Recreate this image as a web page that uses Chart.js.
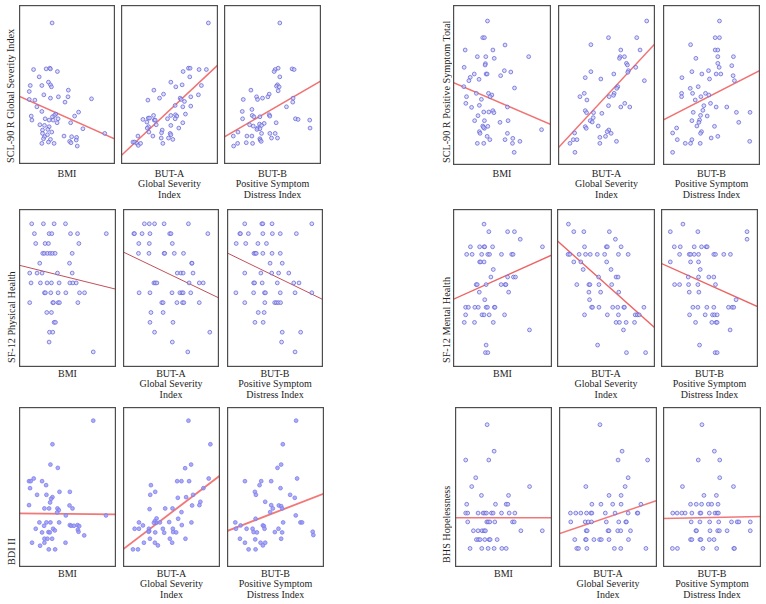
<!DOCTYPE html>
<html>
<head>
<meta charset="utf-8">
<script src="https://cdn.jsdelivr.net/npm/chart.js@4.4.1/dist/chart.umd.min.js"></script>
<style>
  body { margin: 0; background: #fff; width: 766px; height: 604px; position: relative; overflow: hidden;
         font-family: 'Liberation Serif', 'Times New Roman', serif; color: #1e1e1e; }
  canvas { position: absolute; }
  .xl { position: absolute; font-size: 10px; line-height: 10.5px; text-align: center; white-space: nowrap; }
  .yl { position: absolute; font-size: 10.2px; line-height: 12px; width: 12px; writing-mode: vertical-rl;
        transform: rotate(180deg); white-space: nowrap; text-align: left; }
</style>
</head>
<body>
<script>
// predictors (x) and outcomes (y)
const xLabels = [['BMI'], ['BUT-A', 'Global Severity', 'Index'], ['BUT-B', 'Positive Symptom', 'Distress Index']];
const yTitles = ['SCL-90 R Global Severity Index', 'SCL-90 R Positive Symptom Total', 'SF-12 Physical Health',
                 'SF-12 Mental Health', 'BDI II', 'BHS Hopelessness'];
const xRanges = [[15, 44], [0, 2.92], [1, 3.92]];
const yRanges = [[0, 2.39], [0, 96], [-0.53, 15.5], [-0.9, 20], [0, 48.1], [-2.1, 16]];

// SCL-90 R GSI
const gsiBmi = [[25.0,2.12],[19.4,1.42],[23.2,1.43],[24.3,1.44],[24.5,1.43],[26.6,1.39],[21.1,1.31],[23.9,1.23],[24.5,1.19],[24.8,1.16],[21.9,1.18],[18.4,1.18],[18.1,1.09],[22.5,1.04],[29.9,1.11],[29.8,1.01],[24.5,0.99],[26.9,1.01],[36.9,0.98],[18.1,0.97],[19.8,0.96],[28.9,0.93],[20.4,0.86],[21.9,0.79],[33.0,0.78],[26.1,0.75],[25.7,0.73],[25.1,0.71],[31.8,0.72],[18.7,0.72],[18.9,0.66],[22.9,0.68],[24.1,0.66],[25.3,0.66],[26.8,0.68],[26.5,0.62],[21.3,0.59],[22.7,0.58],[30.6,0.62],[24.1,0.56],[23.7,0.52],[22.1,0.51],[34.3,0.53],[24.9,0.48],[22.1,0.46],[23.6,0.44],[22.7,0.41],[28.6,0.42],[30.9,0.41],[32.4,0.40],[22.4,0.38],[24.5,0.37],[32.3,0.36],[30.3,0.34],[30.7,0.32],[21.9,0.31],[23.9,0.33],[25.6,0.31],[32.6,0.27],[40.9,0.46]];
const gsiButA = [[2.63,2.12],[1.87,1.39],[2.03,1.44],[2.08,1.44],[2.35,1.42],[2.57,1.42],[1.50,1.23],[1.65,1.16],[1.84,1.19],[2.07,1.31],[2.42,1.18],[0.99,1.11],[1.28,1.05],[1.16,0.99],[0.81,0.96],[1.78,0.99],[2.10,1.01],[2.33,1.04],[1.91,0.94],[1.81,0.97],[1.63,0.88],[1.86,0.86],[2.10,0.87],[0.98,0.73],[0.66,0.67],[0.82,0.69],[0.86,0.69],[1.00,0.66],[1.03,0.66],[0.78,0.63],[1.06,0.59],[0.83,0.56],[0.79,0.54],[1.50,0.73],[1.64,0.74],[1.68,0.72],[1.94,0.75],[1.63,0.68],[1.40,0.68],[1.50,0.58],[1.74,0.54],[1.86,0.62],[1.24,0.51],[1.22,0.47],[1.48,0.46],[1.50,0.44],[0.96,0.42],[1.21,0.39],[0.84,0.48],[0.51,0.42],[0.36,0.33],[0.41,0.33],[0.48,0.31],[0.52,0.28],[0.59,0.31],[1.26,0.31],[1.43,0.39],[1.56,0.37]];
const gsiButB = [[2.68,2.12],[2.54,1.42],[2.51,1.39],[2.63,1.44],[3.05,1.43],[3.11,1.42],[2.68,1.31],[2.61,1.19],[2.58,1.17],[2.66,1.16],[1.81,1.11],[2.63,1.10],[2.36,1.05],[1.98,1.01],[2.01,0.97],[2.16,0.99],[2.32,1.01],[1.58,0.97],[3.08,0.99],[3.07,0.93],[2.88,0.86],[1.55,0.79],[1.84,0.82],[1.85,0.73],[1.90,0.71],[2.36,0.74],[2.38,0.72],[2.08,0.71],[1.56,0.68],[3.15,0.68],[3.23,0.67],[3.58,0.66],[2.57,0.62],[2.07,0.60],[1.88,0.57],[2.21,0.61],[2.13,0.58],[2.01,0.54],[2.08,0.53],[1.77,0.59],[1.99,0.52],[3.59,0.54],[1.42,0.48],[1.69,0.42],[1.84,0.42],[2.13,0.46],[2.38,0.46],[2.54,0.46],[2.08,0.38],[2.09,0.36],[2.43,0.39],[2.61,0.39],[1.28,0.42],[1.41,0.31],[1.29,0.27],[1.67,0.32],[1.86,0.31],[2.12,0.34]];
const gsiFit = [[1.02, 0.375], [0.125, 1.49], [0.405, 1.25]];

// SCL-90 R PST
const pstBmi = [[25.2,86.4],[23.8,76.4],[24.3,76.4],[18.6,69.0],[26.8,69.0],[30.4,72.0],[22.2,65.0],[24.7,65.0],[27.2,64.0],[37.4,65.0],[24.6,60.8],[24.5,60.0],[18.3,58.6],[30.2,56.6],[32.1,55.8],[21.3,54.6],[24.8,54.6],[25.1,54.6],[29.1,53.6],[20.1,52.6],[22.7,51.4],[19.7,50.6],[18.2,47.0],[33.2,46.2],[21.9,43.0],[25.5,43.0],[26.5,42.0],[26.0,41.0],[23.4,39.4],[19.0,41.0],[18.8,37.0],[20.5,34.6],[22.8,35.8],[31.1,34.8],[24.1,31.8],[25.6,31.8],[26.8,32.6],[27.1,31.4],[22.4,29.6],[21.4,26.6],[24.3,26.6],[31.3,26.6],[28.9,25.6],[23.8,23.4],[25.3,23.2],[24.3,22.0],[24.0,22.6],[22.8,20.0],[23.0,19.0],[25.1,17.2],[31.1,19.0],[25.9,15.2],[30.4,15.2],[32.7,16.0],[34.8,14.2],[22.2,13.0],[24.1,13.0],[32.6,13.0],[33.1,7.6],[41.2,21.2]];
const pstButA = [[2.67,86.4],[1.52,76.4],[2.37,76.4],[0.99,72.2],[1.89,69.0],[2.47,69.0],[1.87,65.0],[1.85,64.0],[2.00,65.0],[2.06,61.0],[2.09,60.0],[2.34,58.6],[0.99,56.0],[0.82,52.4],[1.68,54.6],[2.12,56.6],[2.10,55.6],[1.29,51.6],[1.80,47.0],[1.77,46.0],[0.66,41.0],[0.87,39.0],[0.79,43.0],[1.69,43.0],[1.67,41.8],[1.54,41.0],[2.60,50.6],[2.01,37.0],[2.16,34.8],[1.52,35.6],[1.89,34.8],[0.82,32.6],[0.86,31.4],[1.07,31.4],[1.32,31.0],[0.97,26.6],[1.03,25.8],[1.06,28.4],[1.21,23.4],[0.82,23.0],[0.85,22.0],[1.53,21.0],[1.48,20.0],[1.60,19.0],[1.26,16.6],[1.43,17.2],[1.76,14.2],[0.50,19.2],[0.46,15.2],[0.57,15.2],[0.36,13.0],[1.26,13.0],[0.51,7.6]];
const pstButB = [[2.70,86.4],[2.57,76.4],[2.70,76.4],[1.83,72.2],[2.57,69.0],[2.65,69.0],[1.99,64.0],[2.65,65.0],[3.12,65.0],[2.65,61.0],[2.69,58.6],[3.07,59.6],[1.87,56.0],[2.37,56.6],[2.17,54.6],[2.60,54.6],[2.74,54.6],[1.57,52.4],[2.40,51.6],[3.11,53.6],[3.15,50.6],[2.06,47.0],[1.82,46.0],[1.89,43.0],[1.56,43.0],[1.56,41.0],[2.28,43.0],[2.38,42.0],[2.14,41.0],[1.97,39.0],[2.43,37.0],[2.23,35.6],[2.92,34.8],[2.60,34.8],[1.91,31.6],[2.20,32.8],[2.13,29.8],[2.33,29.4],[2.10,27.0],[1.87,26.6],[2.08,25.6],[3.21,31.6],[3.62,31.6],[3.28,25.6],[2.02,23.4],[2.55,23.2],[1.41,22.2],[1.29,19.2],[2.16,20.0],[2.13,19.0],[2.45,16.2],[2.65,17.2],[1.43,15.2],[1.87,15.2],[1.67,13.0],[1.83,13.0],[2.12,13.0],[3.61,14.2],[1.29,7.6]];
const pstFit = [[49.6, 24.2], [10.2, 72.8], [27.0, 56.8]];

// SF-12 physical
const physBmi = [[18.8,14],[22.3,14],[25.5,14],[28.9,14],[19.6,13],[24.0,13],[24.8,13],[30.4,13],[32.5,13],[41.1,13],[20.0,12],[22.8,12],[23.8,12],[32.9,12],[22.1,11],[22.6,11],[23.5,11],[24.3,11],[25.0,11],[25.8,11],[30.9,11],[21.2,10],[30.1,10],[18.2,9],[20.4,9],[21.9,9],[26.5,9],[30.9,9],[18.6,8],[21.4,8],[23.4,8],[24.7,8],[27.0,8],[30.2,8],[31.1,8],[32.1,8],[22.6,7],[22.9,7],[24.5,7],[26.7,7],[29.0,7],[33.1,7],[34.6,7],[18.2,6],[25.1,6],[25.3,6],[26.7,6],[27.1,6],[32.6,6],[23.3,5],[24.7,5],[25.5,4],[25.9,4],[24.1,3],[25.1,3],[24.0,2],[37.2,1]];
const physButA = [[0.65,14],[0.80,14],[0.96,14],[1.25,14],[1.99,14],[0.33,13],[0.35,13],[0.58,13],[0.82,13],[1.42,13],[1.46,13],[2.58,13],[0.48,12],[0.80,12],[1.50,12],[0.47,11],[0.79,11],[1.25,11],[1.27,11],[1.56,11],[1.84,11],[2.09,10],[2.10,10],[1.65,9],[1.76,9],[1.83,9],[2.13,9],[0.94,8],[0.98,8],[1.03,8],[2.01,8],[2.32,8],[2.44,8],[0.49,7],[0.82,7],[1.49,7],[1.73,7],[1.79,7],[1.83,7],[2.06,7],[1.18,6],[1.22,6],[1.64,6],[1.81,6],[1.85,6],[2.32,6],[0.85,5],[1.22,5],[0.82,4],[1.52,4],[0.96,3],[2.64,3],[1.50,2],[1.97,1]];
const physButB = [[1.54,14],[2.06,14],[2.09,14],[2.37,14],[3.58,14],[1.39,13],[1.41,13],[1.65,13],[2.09,13],[2.38,13],[2.62,13],[3.11,13],[1.28,12],[1.57,12],[1.94,12],[2.20,12],[1.82,11],[1.86,11],[1.89,11],[2.09,11],[2.37,11],[2.62,11],[2.31,10],[2.68,10],[1.54,9],[2.03,9],[2.36,9],[2.57,9],[2.88,9],[1.81,8],[1.84,8],[2.07,8],[2.53,8],[3.03,8],[3.19,8],[1.27,7],[1.81,7],[2.14,7],[2.17,7],[2.62,7],[3.07,7],[3.58,7],[1.54,6],[2.15,6],[2.45,6],[2.50,6],[2.56,6],[2.63,6],[1.95,5],[2.13,5],[1.85,4],[2.10,4],[2.68,3],[3.24,3],[2.66,2],[3.07,1]];
const physFit = [[9.8, 7.36], [11.15, 6.47], [11.05, 6.31]];

// SF-12 mental
const mentBmi = [[24.1,18],[25.5,17],[31.0,17],[33.0,17],[34.7,16],[20.1,15],[22.8,15],[24.1,15],[24.3,15],[26.6,15],[41.2,15],[19.0,14],[20.6,14],[23.4,14],[25.2,14],[25.7,14],[29.2,14],[32.2,14],[32.6,14],[22.8,13],[23.1,13],[24.1,13],[26.8,12],[26.1,11],[31.0,11],[32.7,11],[33.3,11],[21.8,10],[22.1,10],[24.7,10],[29.1,10],[30.3,10],[30.5,10],[22.7,9],[31.3,9],[24.3,8],[18.7,7],[19.5,7],[21.4,7],[22.4,7],[24.7,7],[25.1,7],[27.1,7],[27.3,7],[18.7,6],[23.5,6],[24.1,6],[25.6,6],[30.1,6],[18.3,5],[21.3,5],[26.8,5],[37.4,4],[24.7,2],[24.5,1],[25.2,1]];
const mentButA = [[0.34,18],[0.50,17],[0.80,17],[1.56,17],[1.74,16],[0.82,15],[1.47,15],[1.50,15],[1.91,15],[0.33,14],[0.38,14],[0.66,14],[0.85,14],[0.99,14],[1.20,14],[1.42,14],[1.83,14],[2.12,14],[0.50,13],[0.71,13],[1.48,13],[0.78,12],[1.61,12],[1.24,11],[1.76,11],[1.82,11],[0.59,10],[0.95,10],[0.98,10],[1.25,10],[1.63,10],[0.95,9],[1.30,9],[1.84,9],[0.97,8],[1.03,7],[1.06,7],[1.25,7],[1.66,7],[1.81,7],[1.99,7],[2.01,7],[2.59,7],[0.82,6],[1.50,6],[1.83,6],[2.33,6],[2.39,6],[2.45,6],[1.76,5],[1.86,5],[2.06,5],[2.31,5],[1.98,4],[1.21,2],[2.07,1],[2.64,1]];
const mentButB = [[1.66,18],[1.28,17],[2.11,17],[3.59,17],[3.59,16],[1.40,15],[1.58,15],[2.00,15],[2.22,15],[2.36,15],[2.39,15],[1.56,14],[1.85,14],[1.89,14],[2.00,14],[2.13,14],[2.59,14],[2.64,14],[2.89,14],[3.09,14],[1.28,13],[1.89,13],[2.13,13],[2.18,12],[1.82,11],[2.13,11],[2.44,11],[2.59,11],[1.41,10],[1.56,10],[1.83,10],[2.11,10],[2.64,10],[1.85,9],[2.14,9],[3.26,8],[1.96,7],[2.11,7],[2.38,7],[2.59,7],[3.03,7],[3.14,7],[3.19,7],[1.86,6],[2.33,6],[2.55,6],[2.61,6],[2.69,6],[2.04,5],[2.53,5],[2.66,5],[2.69,5],[3.08,4],[2.16,2],[2.63,1],[2.69,1]];
const mentFit = [[8.04, 13.92], [15.82, 4.27], [12.81, 7.06]];

// BDI II
const bdiBmi = [[37.2,44.0],[25.0,36.9],[24.4,30.8],[26.6,29.8],[18.0,25.8],[18.5,25.8],[19.4,26.6],[21.9,25.8],[23.1,24.6],[18.3,23.7],[20.4,21.7],[23.2,21.7],[25.0,21.0],[24.6,20.5],[27.1,22.6],[30.2,22.6],[24.3,19.4],[18.0,18.6],[22.6,17.6],[24.0,17.6],[26.5,17.6],[26.9,17.1],[30.1,18.5],[31.0,17.6],[26.4,16.4],[29.0,15.5],[41.0,15.5],[21.1,13.4],[23.2,13.4],[24.4,13.4],[27.0,13.4],[22.5,12.4],[20.0,11.5],[21.9,10.4],[23.8,10.5],[24.2,10.4],[25.2,11.5],[25.7,11.0],[30.2,12.6],[30.6,12.4],[31.4,12.4],[32.5,12.6],[33.0,12.3],[32.6,11.2],[32.8,10.6],[34.5,9.5],[22.6,8.5],[23.5,8.5],[24.9,8.5],[18.9,7.3],[22.6,7.3],[28.9,7.3],[21.3,6.4],[23.9,5.3],[25.8,5.3]];
const bdiButA = [[1.97,44.0],[2.63,36.9],[2.05,30.8],[1.87,29.7],[2.58,26.6],[1.63,25.8],[1.76,25.8],[1.99,25.8],[0.84,24.6],[2.42,23.7],[0.97,22.6],[0.82,21.7],[2.11,21.7],[1.65,20.8],[1.90,21.0],[2.33,19.6],[2.30,18.6],[2.08,18.5],[1.49,17.6],[0.80,17.4],[1.27,17.6],[1.76,16.5],[1.01,14.6],[0.96,13.8],[1.00,13.3],[2.06,13.4],[1.11,13.4],[1.39,13.5],[1.66,14.5],[0.48,13.4],[0.60,12.5],[0.48,11.5],[0.35,11.5],[0.78,11.5],[0.79,10.8],[1.20,11.5],[1.50,11.5],[1.77,12.6],[1.24,10.3],[1.51,10.5],[1.60,10.4],[0.81,8.5],[0.96,7.3],[0.63,7.3],[1.05,6.5],[1.41,8.5],[1.48,7.3],[1.88,8.5],[0.30,5.3],[0.45,5.3],[0.97,10.4],[0.77,10.6],[0.93,13.3]];
const bdiButB = [[3.08,44.0],[2.68,36.9],[2.63,30.8],[2.52,29.8],[1.54,25.8],[2.03,25.8],[1.98,24.6],[2.33,25.8],[1.84,22.6],[1.87,21.7],[2.61,23.7],[3.11,26.6],[2.90,21.7],[3.04,20.8],[2.15,19.6],[2.33,18.6],[2.56,18.5],[2.63,18.3],[2.66,17.6],[2.38,17.6],[2.30,16.5],[3.07,15.5],[1.86,14.5],[1.25,13.4],[1.41,12.5],[1.59,11.5],[1.27,11.5],[1.77,11.5],[1.80,10.5],[1.90,10.4],[2.08,12.5],[2.11,12.3],[2.13,11.5],[2.69,13.4],[3.21,13.4],[3.26,13.4],[2.44,10.5],[2.66,10.4],[2.55,11.5],[3.58,10.6],[3.60,9.6],[1.39,8.5],[1.54,7.3],[1.85,8.3],[2.01,7.3],[2.08,6.5],[2.15,7.3],[2.63,8.5],[1.65,5.3],[1.86,5.3]];
const bdiFit = [[16.1, 15.8], [5.3, 27.5], [10.8, 22.1]];

// BHS
const bhsBmi = [[24.6,14],[26.7,11],[18.2,10],[25.1,10],[21.2,8],[20.0,7],[37.3,7],[22.9,6],[31.0,6],[18.5,5],[27.1,5],[30.3,5],[30.8,5],[18.2,4],[18.8,4],[21.9,4],[23.4,4],[23.9,4],[24.4,4],[25.9,4],[26.4,4],[28.9,4],[31.2,4],[32.9,4],[18.8,3],[24.5,3],[24.9,3],[25.4,3],[26.9,3],[32.2,3],[32.7,3],[20.5,2],[21.9,2],[23.1,2],[23.7,2],[24.1,2],[34.7,2],[41.1,2],[21.4,1],[22.0,1],[22.5,1],[23.9,1],[25.2,1],[25.5,1],[27.6,1],[19.5,0],[23.0,0],[24.9,0],[26.7,0],[29.0,0],[30.3,0]];
const bhsButA = [[1.22,14],[1.88,11],[1.76,10],[2.64,10],[2.06,8],[0.80,7],[1.97,7],[1.49,6],[1.85,6],[0.98,5],[1.25,5],[1.60,5],[1.85,5],[2.44,5],[0.34,4],[0.50,4],[0.65,4],[0.82,4],[0.95,4],[0.98,4],[1.38,4],[1.67,4],[2.06,4],[2.33,4],[2.35,4],[0.35,3],[0.78,3],[0.87,3],[0.97,3],[1.41,3],[1.78,3],[1.99,3],[2.01,3],[0.81,2],[0.84,2],[1.46,2],[1.49,2],[1.75,2],[1.84,2],[2.13,2],[0.47,1],[0.79,1],[0.81,1],[1.04,1],[1.21,1],[1.26,1],[1.49,1],[2.07,1],[0.53,0],[0.58,0],[0.83,0],[1.65,0],[1.84,0],[2.59,0]];
const bhsButB = [[2.16,14],[2.53,11],[2.05,10],[2.69,10],[2.69,8],[1.58,7],[3.10,7],[2.22,6],[2.59,6],[1.82,5],[1.99,5],[2.15,5],[2.35,5],[2.45,5],[2.64,5],[1.29,4],[1.42,4],[1.56,4],[1.66,4],[1.86,4],[2.10,4],[2.13,4],[2.38,4],[2.55,4],[2.61,4],[2.65,4],[1.84,3],[2.10,3],[2.39,3],[2.66,3],[3.04,3],[3.21,3],[3.26,3],[3.60,3],[1.98,2],[2.00,2],[2.40,2],[2.63,2],[2.68,2],[2.91,2],[3.60,2],[1.82,1],[1.86,1],[2.10,1],[2.13,1],[2.38,1],[2.52,1],[1.28,0],[1.43,0],[2.19,0],[2.60,0],[3.11,0],[3.13,0]];
const bhsFit = [[3.47, 3.47], [1.66, 5.43], [3.40, 3.62]];

// layout per group: panel lefts/widths, top, height, y-title centre x and bottom, label top
const groups = [
  { pts: [gsiBmi, gsiButA, gsiButB], fit: gsiFit, lefts: [19, 121, 224], widths: [96, 97, 97], top: 5, h: 159, tx: 11, tb: 163, lt: 168.5, line: '#f07272', lw: 1.5, filled: false },
  { pts: [pstBmi, pstButA, pstButB], fit: pstFit, lefts: [453, 558, 663], widths: [98, 97, 97], top: 5, h: 160, tx: 447, tb: 163, lt: 168.5, line: '#f07272', lw: 1.5, filled: false },
  { pts: [physBmi, physButA, physButB], fit: physFit, lefts: [19, 123, 227], widths: [97, 96, 96], top: 209, h: 158, tx: 11.5, tb: 363, lt: 368.5, line: '#c0505a', lw: 1, filled: false },
  { pts: [mentBmi, mentButA, mentButB], fit: mentFit, lefts: [453, 557, 661], widths: [99, 98, 97], top: 209, h: 158, tx: 446.5, tb: 363, lt: 368.5, line: '#ec6464', lw: 1.3, filled: false },
  { pts: [bdiBmi, bdiButA, bdiButB], fit: bdiFit, lefts: [19, 123, 227], widths: [97, 97, 97], top: 407, h: 160, tx: 11.5, tb: 565, lt: 568.5, line: '#f27878', lw: 1.8, filled: true },
  { pts: [bhsBmi, bhsButA, bhsButB], fit: bhsFit, lefts: [455, 559, 663], widths: [97, 98, 98], top: 407, h: 160, tx: 446.5, tb: 563, lt: 568.5, line: '#f27878', lw: 1.5, filled: false }
];

const frame = {
  id: 'frame',
  afterDraw(chart) {
    const a = chart.chartArea, c = chart.ctx;
    c.save();
    c.strokeStyle = '#4e4e4e';
    c.lineWidth = 1.2;
    c.strokeRect(a.left + 0.6, a.top + 0.6, a.right - a.left - 1.2, a.bottom - a.top - 1.2);
    c.restore();
  }
};

groups.forEach((g, gi) => {
  const yr = yRanges[gi];
  for (let p = 0; p < 3; p++) {
    const xr = xRanges[p];
    const cv = document.createElement('canvas');
    cv.width = g.widths[p];
    cv.height = g.h;
    cv.style.left = g.lefts[p] + 'px';
    cv.style.top = g.top + 'px';
    document.body.appendChild(cv);

    new Chart(cv, {
      type: 'scatter',
      data: {
        datasets: [{
          data: g.pts[p].map(d => ({ x: d[0], y: d[1] })),
          pointRadius: 1.9,
          borderWidth: 0.9,
          borderColor: g.filled ? 'rgba(125,125,238,0.85)' : 'rgba(100,100,215,0.85)',
          backgroundColor: g.filled ? 'rgba(150,150,245,0.8)' : 'rgba(200,200,248,0.6)'
        }, {
          type: 'line',
          data: [{ x: xr[0], y: g.fit[p][0] }, { x: xr[1], y: g.fit[p][1] }],
          borderColor: g.line,
          borderWidth: g.lw,
          pointRadius: 0
        }]
      },
      options: {
        responsive: false,
        animation: false,
        layout: { padding: 0, autoPadding: false },
        plugins: { legend: { display: false }, tooltip: { enabled: false } },
        scales: {
          x: { type: 'linear', min: xr[0], max: xr[1], display: false },
          y: { type: 'linear', min: yr[0], max: yr[1], display: false }
        }
      },
      plugins: [frame]
    });

    const lab = document.createElement('div');
    lab.className = 'xl';
    lab.style.left = g.lefts[p] + 'px';
    lab.style.width = g.widths[p] + 'px';
    lab.style.top = g.lt + 'px';
    lab.innerHTML = xLabels[p].join('<br>');
    document.body.appendChild(lab);
  }

  const t = document.createElement('div');
  t.className = 'yl';
  t.style.left = (g.tx - 6) + 'px';
  t.style.top = g.top + 'px';
  t.style.height = (g.tb - g.top) + 'px';
  t.textContent = yTitles[gi];
  document.body.appendChild(t);
});
</script>
</body>
</html>
